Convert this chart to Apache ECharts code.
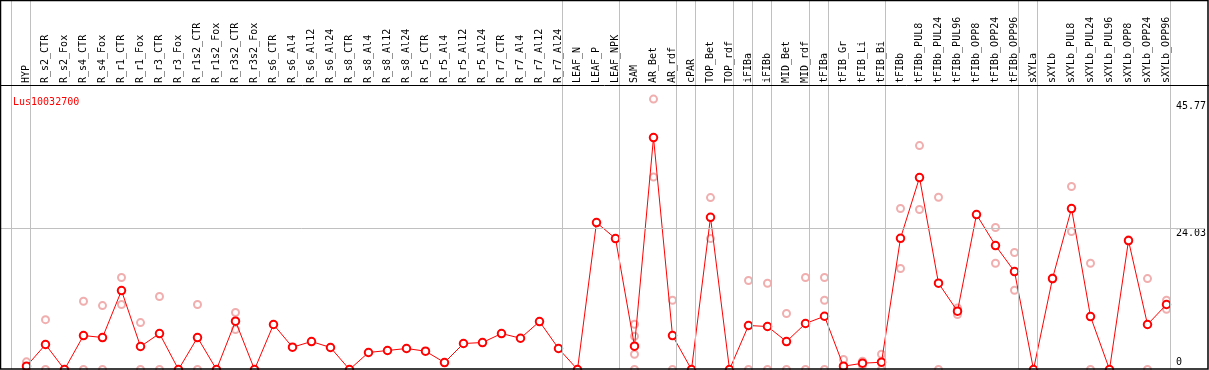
<!DOCTYPE html>
<html><head><meta charset="utf-8">
<script src="https://cdn.jsdelivr.net/npm/echarts@6/dist/echarts.min.js"></script>
<style>html,body{margin:0;padding:0;background:#fff}#c{width:1209px;height:370px}</style>
</head><body><div id="c"></div>
<script>
const geneId = 'Lus10032700';
const categories = ['HYP','R_s2_CTR','R_s2_Fox','R_s4_CTR','R_s4_Fox','R_r1_CTR','R_r1_Fox','R_r3_CTR','R_r3_Fox','R_r1s2_CTR','R_r1s2_Fox','R_r3s2_CTR','R_r3s2_Fox','R_s6_CTR','R_s6_Al4','R_s6_Al12','R_s6_Al24','R_s8_CTR','R_s8_Al4','R_s8_Al12','R_s8_Al24','R_r5_CTR','R_r5_Al4','R_r5_Al12','R_r5_Al24','R_r7_CTR','R_r7_Al4','R_r7_Al12','R_r7_Al24','LEAF_N','LEAF_P','LEAF_NPK','SAM','AR_Bet','AR_rdf','cPAR','TOP_Bet','TOP_rdf','iFIBa','iFIBb','MID_Bet','MID_rdf','tFIBa','tFIB_Gr','tFIB_Li','tFIB_Bi','tFIBb','tFIBb_PUL8','tFIBb_PUL24','tFIBb_PUL96','tFIBb_OPP8','tFIBb_OPP24','tFIBb_OPP96','sXYLa','sXYLb','sXYLb_PUL8','sXYLb_PUL24','sXYLb_PUL96','sXYLb_OPP8','sXYLb_OPP24','sXYLb_OPP96'];
const means = [0.56,4.26,0,5.79,5.45,13.46,3.92,6.13,0,5.45,0,8.23,0,7.67,3.8,4.77,3.75,0,2.9,3.24,3.58,3.12,1.19,4.43,4.6,6.13,5.33,8.18,3.58,0,25.05,22.32,3.97,39.54,5.79,0,25.95,0,7.5,7.33,4.77,7.84,9.08,0.56,1.07,1.24,22.37,32.72,14.71,9.94,26.41,21.13,16.7,0,15.5,27.44,9.03,0,21.98,7.67,11.08];
const replicates = [
  [1.3,0.4,0],[8.5,0],[],[11.64,0],[10.9,0],[15.68,11.08],[8.0,0],[12.44,0],[],[11.08,0],
  [],[9.71,6.82],[],[],[],[],[],[],[],[],
  [],[],[],[],[],[],[],[],[],[],
  [],[],[7.72,5.67,2.6,0],[46.1,32.8],[11.81,0],[],[29.31,22.32],[],[15.17,0],[14.7,0],
  [9.54,0],[15.68,0],[15.68,11.81,0],[1.7,0,0],[1.4,0.7],[2.6,0],[27.44,17.21],[38.17,27.27],[29.36,0],[10.5,9.37],
  [],[24.2,18.11],[19.94,13.51],[],[15.6,15.4],[31.19,23.52],[18.11,0],[],[22.1,21.9],[15.5,0],
  [11.81,10.28]
];
const groupEnds = ['HYP','R_r7_Al24','LEAF_NPK','AR_rdf','cPAR','TOP_rdf','iFIBa','iFIBb','MID_rdf','tFIBa','tFIB_Bi','tFIBb_OPP96','sXYLa','sXYLb_OPP96'];
const yTickLabels = [0, 24.03, 45.77];
const yMax = 48.5;

const FONT = 'DejaVu Sans Mono';
const repData = [];
replicates.forEach((arr, i) => arr.forEach(v => repData.push([i, v])));
const sepIdx = [-1].concat(groupEnds.map(n => categories.indexOf(n)));
const sepLines = sepIdx.map(i => ({xAxis: i + 4 / 19}));

const chart = echarts.init(document.getElementById('c'), null, {renderer: 'canvas'});
chart.setOption({
  animation: false,
  backgroundColor: '#fff',
  title: {text: geneId, left: 8, top: 92, textStyle: {color: '#ff0000', fontSize: 10, fontWeight: 'normal', fontFamily: FONT}},
  grid: [
    {left: 7.5, right: 33, top: 0, bottom: 1},
    {left: 17, right: 33, top: 85, bottom: 0.5},
    {left: 0, right: 1, top: 85, bottom: 0.5}
  ],
  xAxis: [
    {gridIndex: 0, type: 'value', min: -1, max: 60.5, show: false},
    {gridIndex: 1, type: 'category', data: categories, position: 'top', boundaryGap: true,
     axisLine: {show: false}, axisTick: {show: false}, splitLine: {show: false},
     axisLabel: {interval: 0, rotate: 90, margin: 2, fontSize: 10, fontFamily: FONT, color: '#000'}},
    {gridIndex: 2, type: 'value', min: 0, max: 1, show: false}
  ],
  yAxis: [
    {gridIndex: 0, type: 'value', min: 0, max: 1, show: false},
    {gridIndex: 1, type: 'value', min: 0, max: yMax, show: false},
    {gridIndex: 2, type: 'value', min: 0, max: yMax, position: 'right',
     axisLine: {show: false}, axisTick: {show: false}, splitLine: {show: false},
     axisLabel: {inside: true, align: 'left', margin: 29, customValues: yTickLabels, fontSize: 10, fontFamily: FONT, color: '#000',
       formatter: v => v === 0 ? '{u|0}' : '{d|' + v + '}',
       rich: {u: {fontSize: 10, fontFamily: FONT, padding: [0, 0, 15, 0]}, d: {fontSize: 10, fontFamily: FONT, padding: [10, 0, 0, 0]}}}}
  ],
  series: [
    {type: 'line', xAxisIndex: 0, yAxisIndex: 0, data: [], silent: true, z: 1,
     markLine: {silent: true, symbol: 'none', label: {show: false}, animation: false,
       lineStyle: {color: '#c0c0c0', width: 1, type: 'solid'}, data: sepLines}},
    {type: 'line', xAxisIndex: 2, yAxisIndex: 2, data: [], silent: true, z: 1,
     markLine: {silent: true, symbol: 'none', label: {show: false}, animation: false,
       lineStyle: {color: '#c0c0c0', width: 1, type: 'solid'}, data: [{yAxis: yTickLabels[1]}]}},
    {type: 'scatter', xAxisIndex: 1, yAxisIndex: 1, data: repData, clip: false, z: 3,
     symbol: 'emptyCircle', symbolSize: 7,
     itemStyle: {color: '#ec9a9a', borderColor: '#ec9a9a', borderWidth: 1.2}},
    {type: 'line', xAxisIndex: 1, yAxisIndex: 1, data: means, clip: false, z: 4,
     symbol: 'emptyCircle', symbolSize: 7.5, showAllSymbol: true,
     lineStyle: {color: '#ff0000', width: 1},
     itemStyle: {color: '#ff0000', borderColor: '#ff0000', borderWidth: 1.6}}
  ],
  graphic: [
    {type: 'rect', z: 100, silent: true, shape: {x: 0.5, y: 0.5, width: 1207.5, height: 368.5},
     style: {fill: null, stroke: '#000', lineWidth: 1.5}},
    {type: 'line', z: 100, silent: true, shape: {x1: 0, y1: 85.5, x2: 1209, y2: 85.5},
     style: {stroke: '#000', lineWidth: 1}}
  ]
});
</script></body></html>
